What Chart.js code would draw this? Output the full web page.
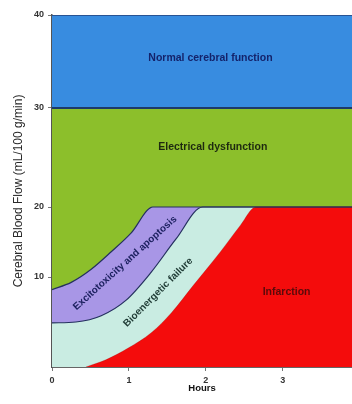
<!DOCTYPE html>
<html>
<head>
<meta charset="utf-8">
<script src="https://cdn.jsdelivr.net/npm/chart.js@4.4.1/dist/chart.umd.min.js"></script>
<style>
  html, body { margin: 0; padding: 0; background: #ffffff; }
  #wrap { width: 352px; height: 404px; position: relative; }
</style>
</head>
<body>
<div id="wrap"><canvas id="c"></canvas></div>
<script>
// ---- Data ----
const xTicks = [0, 1, 2, 3];
const yTicks = [10, 20, 30, 40];

// Upper edge of the "Normal cerebral function" band
const topX = [0, 3.9];
const topY = [40, 40];
// Normal / electrical dysfunction threshold
const normalX = [0, 3.9];
const normalY = [30, 30];
// Electrical dysfunction / excitotoxicity boundary
const curveAx = [0, 0.25, 0.51, 0.77, 1.03, 1.31, 3.9];
const curveAy = [8.6, 9.4, 11.1, 13.6, 16.3, 20, 20];
// Excitotoxicity / bioenergetic failure boundary
const curveBx = [0, 0.31, 0.64, 0.96, 1.29, 1.61, 1.96, 3.9];
const curveBy = [4.9, 5.0, 5.7, 7.4, 10.7, 15.4, 20, 20];
// Bioenergetic failure / infarction boundary
const curveCx = [0.44, 0.70, 0.99, 1.29, 1.55, 1.84, 2.19, 2.45, 2.65, 3.9];
const curveCy = [0, 0.8, 2.1, 3.8, 6.0, 9.1, 13.6, 17.4, 20, 20];

const regionLabels = ['Normal cerebral function', 'Electrical dysfunction', 'Excitotoxicity and apoptosis', 'Bioenergetic failure', 'Infarction'];
const regionLabelX = [2.06, 2.09, 0.95, 1.38, 3.05];
const regionLabelY = [35.4, 26.1, 12.0, 8.3, 8.3];

// ---- Styling ----
const FONT = '"Liberation Sans", Arial, sans-serif';
const labelStyles = [
  { angle: 0,   font: 'bold 10.5px ' + FONT, color: '#14236b' },
  { angle: 0,   font: 'bold 10.5px ' + FONT, color: '#1e2a10' },
  { angle: -42, font: 'bold 10px ' + FONT, color: '#1d2160' },
  { angle: -45, font: 'bold 10px ' + FONT, color: '#1f3b35' },
  { angle: 0,   font: 'bold 10.5px ' + FONT, color: '#5a0a0a' }
];

const pts = (xs, ys) => xs.map((x, i) => ({ x: x, y: ys[i] }));

// The reference's y axis has unequal spacing between its ticks;
// a piecewise-linear variant of the library's linear scale reproduces it.
const yBreakValues = [0, 10, 20, 30, 40];
const yBreakFractions = [0, 90 / 352, 160 / 352, 259 / 352, 1];
class PiecewiseScale extends Chart.LinearScale {
  toFraction(v) {
    const bv = yBreakValues, bf = yBreakFractions;
    if (v <= bv[0]) return bf[0] + (v - bv[0]) * (bf[1] - bf[0]) / (bv[1] - bv[0]);
    for (let i = 1; i < bv.length; i++) {
      if (v <= bv[i]) return bf[i - 1] + (v - bv[i - 1]) * (bf[i] - bf[i - 1]) / (bv[i] - bv[i - 1]);
    }
    const n = bv.length - 1;
    return bf[n] + (v - bv[n]) * (bf[n] - bf[n - 1]) / (bv[n] - bv[n - 1]);
  }
  fromFraction(f) {
    const bv = yBreakValues, bf = yBreakFractions;
    for (let i = 1; i < bf.length; i++) {
      if (f <= bf[i] || i === bf.length - 1) return bv[i - 1] + (f - bf[i - 1]) * (bv[i] - bv[i - 1]) / (bf[i] - bf[i - 1]);
    }
  }
  getPixelForValue(value) {
    return value === null ? NaN : this.getPixelForDecimal(this.toFraction(value));
  }
  getValueForPixel(pixel) {
    return this.fromFraction(this.getDecimalForPixel(pixel));
  }
}
PiecewiseScale.id = 'piecewise';
PiecewiseScale.defaults = Chart.LinearScale.defaults;
Chart.register(PiecewiseScale);

const labelPlugin = {
  id: 'regionLabels',
  afterDatasetsDraw(chart) {
    const { ctx, scales: { x, y } } = chart;
    regionLabels.forEach((t, i) => {
      const s = labelStyles[i];
      ctx.save();
      ctx.translate(x.getPixelForValue(regionLabelX[i]), y.getPixelForValue(regionLabelY[i]));
      ctx.rotate(s.angle * Math.PI / 180);
      ctx.font = s.font;
      ctx.fillStyle = s.color;
      ctx.textAlign = 'center';
      ctx.textBaseline = 'middle';
      ctx.fillText(t, 0, 0);
      ctx.restore();
    });
  }
};

const common = { pointRadius: 0, cubicInterpolationMode: 'monotone', fill: 'start' };

new Chart(document.getElementById('c'), {
  type: 'line',
  data: {
    datasets: [
      Object.assign({ label: 'Infarction', data: pts(curveCx, curveCy), backgroundColor: '#f40c0c', borderColor: 'rgba(150,20,20,0.35)', borderWidth: 0.8 }, common),
      Object.assign({ label: 'Bioenergetic failure', data: pts(curveBx, curveBy), backgroundColor: '#c9ece2', borderColor: '#24305e', borderWidth: 1.2 }, common),
      Object.assign({ label: 'Excitotoxicity and apoptosis', data: pts(curveAx, curveAy), backgroundColor: '#a896e6', borderColor: '#24305e', borderWidth: 1.2 }, common),
      Object.assign({ label: 'Electrical dysfunction', data: pts(normalX, normalY), backgroundColor: '#8cbf2b', borderColor: '#1d3a6a', borderWidth: 2 }, common),
      Object.assign({ label: 'Normal cerebral function', data: pts(topX, topY), backgroundColor: '#388ce0', borderColor: '#23407a', borderWidth: 1.5 }, common)
    ]
  },
  options: {
    responsive: true,
    maintainAspectRatio: false,
    animation: false,
    layout: { padding: { top: 15, right: 0, left: 0, bottom: 0 } },
    plugins: {
      legend: { display: false },
      tooltip: { enabled: false },
      filler: { drawTime: 'beforeDatasetsDraw' }
    },
    scales: {
      x: {
        type: 'linear',
        min: 0,
        max: 3.9,
        afterBuildTicks: (s) => { s.ticks = xTicks.map(v => ({ value: v })); },
        afterFit: (s) => { s.height = 37; },
        grid: { display: true, drawOnChartArea: false, tickLength: 4, color: '#777' },
        border: { display: true, color: '#666', width: 1 },
        ticks: {
          padding: 4,
          color: '#333',
          font: { family: FONT, size: 9, weight: 'bold' },
          callback: (v) => String(v),
          maxRotation: 0
        },
        title: {
          display: true,
          text: 'Hours',
          color: '#111',
          font: { family: FONT, size: 9.5, weight: 'bold' },
          padding: { top: 0, bottom: 10 }
        }
      },
      y: {
        type: 'piecewise',
        min: 0,
        max: 40,
        afterBuildTicks: (s) => { s.ticks = yTicks.map(v => ({ value: v })); },
        afterFit: (s) => { s.width = 52; },
        grid: { display: true, drawOnChartArea: false, tickLength: 4, color: '#777' },
        border: { display: true, color: '#555', width: 1.5 },
        ticks: {
          padding: 4,
          color: '#333',
          font: { family: FONT, size: 9, weight: 'bold' },
          callback: (v) => String(v)
        },
        title: {
          display: true,
          text: 'Cerebral Blood Flow (mL/100 g/min)',
          color: '#2a2a2a',
          font: { family: FONT, size: 12 },
          padding: { top: 11, bottom: 0 }
        }
      }
    }
  },
  plugins: [labelPlugin]
});
</script>
</body>
</html>
